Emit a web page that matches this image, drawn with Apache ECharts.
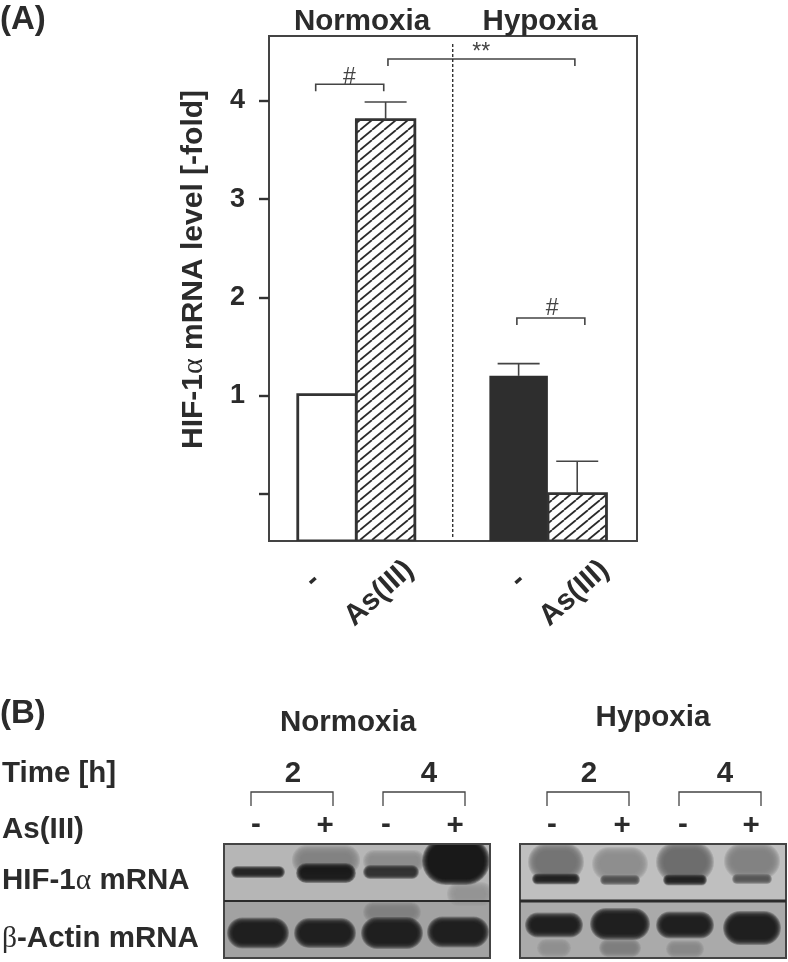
<!DOCTYPE html>
<html><head><meta charset="utf-8">
<style>html,body{margin:0;padding:0;background:#fff}#c{width:788px;height:962px}</style>
<script src="https://cdn.jsdelivr.net/npm/echarts@6/dist/echarts.min.js"></script>
</head><body><div id="c"></div>
<script>
// ---- Panel A data ----
var barPositions = [1, 2, 4.27, 5.27];
var barMeans = [1.01, 3.81, 1.20, 0.0];
var errorPositions = [2, 4.27, 5.27];
var errorBases = [3.81, 1.20, 0.0];
var errorTops = [3.99, 1.325, 0.33];
var barFills = ['plain', 'hatch', 'solid', 'hatch'];
var xLabels = ['-\u00a0\u00a0', 'As(III)', '-\u00a0\u00a0', 'As(III)'];
var xLabelPositions = [1.02, 2.41, 4.53, 5.74];
var yTickValues = [0, 1, 2, 3, 4];
var yLabelValues = [1, 2, 3, 4];
var bracketStarts = [0.807, 2.04, 4.24];
var bracketEnds = [1.968, 5.23, 5.40];
var bracketHeights = [4.17, 4.427, 1.79];
var bracketMarks = ['#', '**', '#'];
var bracketMarkX = [1.38, 3.63, 4.84];
var bracketMarkY = [4.24, 4.49, 1.88];
var dividerX = [3.145];
var dividerEnds = [-0.44, 4.59];
var yMin = -0.482, yMax = 4.662;

// ---- Panel B blot bands, in panel units: [centre x, centre y, width, height, tone, blur] ----
var normoxiaBands = [
  [102, 16, 50, 12, '#808080', 9],
  [34, 28, 46, 4, '#1c1c1c', 4],
  [102, 29, 50, 10, '#141414', 5],
  [170, 17, 48, 8, '#8c8c8c', 7],
  [167, 28, 48, 6, '#2c2c2c', 4],
  [246, 50, 30, 8, '#949494', 8],
  [232, 17, 56, 36, '#101010', 6],
  [34, 89, 50, 19, '#181818', 6],
  [101, 89, 50, 18, '#181818', 6],
  [168, 68, 44, 6, '#808080', 7],
  [168, 89, 50, 20, '#181818', 6],
  [234, 88, 50, 19, '#181818', 6]
];
var hypoxiaBands = [
  [36, 18, 40, 22, '#707070', 8],
  [36, 35, 40, 3, '#1c1c1c', 4],
  [100, 20, 40, 18, '#8a8a8a', 8],
  [100, 36, 32, 2, '#4a4a4a', 4],
  [165, 18, 42, 24, '#6a6a6a', 8],
  [165, 36, 36, 3, '#1c1c1c', 4],
  [232, 17, 40, 20, '#7e7e7e', 8],
  [232, 35, 32, 2, '#505050', 4],
  [34, 104, 22, 6, '#909090', 6],
  [100, 104, 30, 6, '#7a7a7a', 6],
  [165, 105, 26, 5, '#868686', 6],
  [34, 81, 46, 13, '#181818', 6],
  [100, 80, 48, 20, '#181818', 6],
  [165, 81, 46, 15, '#181818', 6],
  [232, 84, 46, 22, '#181818', 6]
];

// ---- Styles ----
var INK = '#2b2b2b', LINE = '#444444';
var BOLD = '"Liberation Sans", Arial, sans-serif';
var SERIF = '"Liberation Serif", serif';
var FS = 29.5;

function hatchPattern() {
  var w = 12, h = 10;
  var cv = document.createElement('canvas');
  cv.width = w; cv.height = h;
  var g = cv.getContext('2d');
  g.fillStyle = '#fff'; g.fillRect(0, 0, w, h);
  g.strokeStyle = '#2b2b2b'; g.lineWidth = 1.8;
  [-1, 0, 1].forEach(function (k) {
    g.beginPath();
    g.moveTo(k * w, h);
    g.lineTo(k * w + w, 0);
    g.stroke();
  });
  return { image: cv, repeat: 'repeat' };
}
var fillFor = { plain: '#ffffff', hatch: hatchPattern(), solid: '#2e2e2e' };

function renderBar(params, api) {
  var top = api.coord([api.value(0), api.value(1)]);
  var base = api.coord([api.value(0), yMin]);
  var kind = barFills[params.dataIndex];
  var w = 58.5;
  return {
    type: 'rect',
    shape: { x: top[0] - w / 2, y: top[1], width: w, height: base[1] - top[1] },
    style: { fill: fillFor[kind], stroke: kind === 'solid' ? '#2e2e2e' : '#333333', lineWidth: kind === 'solid' ? 0 : 2.8 }
  };
}
function renderError(params, api) {
  var b = api.coord([api.value(0), api.value(1)]);
  var t = api.coord([api.value(0), api.value(2)]);
  var st = { stroke: LINE, lineWidth: 1.6, fill: null };
  return { type: 'group', children: [
    { type: 'line', shape: { x1: b[0], y1: b[1], x2: t[0], y2: t[1] }, style: st },
    { type: 'line', shape: { x1: t[0] - 21, y1: t[1], x2: t[0] + 21, y2: t[1] }, style: st }
  ]};
}
function renderBracket(params, api) {
  var a = api.coord([api.value(0), api.value(2)]);
  var b = api.coord([api.value(1), api.value(2)]);
  return {
    type: 'polyline',
    shape: { points: [[a[0], a[1] + 7], [a[0], a[1]], [b[0], b[1]], [b[0], b[1] + 7]] },
    style: { stroke: LINE, lineWidth: 1.6, fill: null }
  };
}
function renderMark(params, api) {
  var p = api.coord([api.value(0), api.value(1)]);
  return {
    type: 'text', x: p[0], y: p[1],
    style: { text: bracketMarks[params.dataIndex], x: 0, y: 0, align: 'center', verticalAlign: 'middle',
      font: '23px ' + BOLD, fill: LINE }
  };
}
function renderDivider(params, api) {
  var a = api.coord([api.value(0), dividerEnds[0]]);
  var b = api.coord([api.value(0), dividerEnds[1]]);
  return {
    type: 'line', shape: { x1: a[0], y1: a[1], x2: b[0], y2: b[1] },
    style: { stroke: '#333', lineWidth: 1.4, lineDash: [3, 2] }
  };
}
function softBand(c, b) {
  // nested translucent rounded rects give a soft blot edge
  var layers = [], n = 9;
  for (var k = 0; k < n; k++) {
    var g = b[5] * (1 - k / (n - 1));
    var W = b[2] + 2 * g, H = b[3] + 2 * g;
    layers.push({
      type: 'rect',
      shape: { x: c[0] - W / 2, y: c[1] - H / 2, width: W, height: H, r: Math.min(W, H) / 2 },
      style: { fill: b[4], opacity: 0.26 }
    });
  }
  return { type: 'group', children: layers };
}
function blotRenderer(bands, topTone, bottomTone) {
  return function (params, api) {
    var i = params.dataIndex;
    if (i === 0) {
      var o = api.coord([0, 0]), m = api.coord([266, 57]), e = api.coord([266, 114]);
      return { type: 'group', children: [
        { type: 'rect', shape: { x: o[0], y: o[1], width: m[0] - o[0], height: m[1] - o[1] }, style: { fill: topTone } },
        { type: 'rect', shape: { x: o[0], y: m[1], width: m[0] - o[0], height: e[1] - m[1] }, style: { fill: bottomTone } }
      ]};
    }
    var b = bands[i - 1];
    return softBand(api.coord([b[0], b[1]]), b);
  };
}
function blotSeries(bands, idx, top, bottom) {
  var data = [[0, 0]].concat(bands.map(function (b) { return [b[0], b[1]]; }));
  return {
    type: 'custom', xAxisIndex: idx, yAxisIndex: idx, clip: true, silent: true,
    renderItem: blotRenderer(bands, top, bottom), data: data, encode: { x: 0, y: 1 }, z: 1
  };
}
function hiddenAxis(idx, max, inverse) {
  return { type: 'value', gridIndex: idx, min: 0, max: max, inverse: !!inverse, show: false };
}

function txt(x, y, text, opts) {
  opts = opts || {};
  return {
    type: 'text', x: x, y: y + 2, z: 10,
    style: {
      text: text, x: 0, y: 0, align: opts.align || 'left', verticalAlign: 'middle',
      font: 'bold ' + (opts.size || FS) + 'px ' + BOLD, fill: INK,
      rich: opts.rich
    }
  };
}
var greekRich = {
  a: { font: 'bold ' + FS + 'px ' + BOLD, fill: INK, color: INK },
  g: { font: FS + 'px ' + SERIF, fill: INK, color: INK }
};
function bracket(x1, x2) {
  return {
    type: 'polyline', z: 10,
    shape: { points: [[x1, 806], [x1, 792], [x2, 792], [x2, 806]] },
    style: { stroke: LINE, lineWidth: 1.3, fill: null }
  };
}
function sepLine(x1, x2, w) {
  return { type: 'line', z: 10, shape: { x1: x1, y1: 901, x2: x2, y2: 901 }, style: { stroke: '#2a2a2a', lineWidth: w } };
}

var chart = echarts.init(document.getElementById('c'), null, { renderer: 'canvas' });
chart.setOption({
  animation: false,
  backgroundColor: '#ffffff',
  grid: [
    { left: 269, top: 36, width: 368, height: 505, show: true, borderColor: '#444', borderWidth: 2, backgroundColor: 'transparent' },
    { left: 224, top: 844, width: 266, height: 114, show: true, borderColor: '#444', borderWidth: 2, backgroundColor: 'transparent', z: 5 },
    { left: 520, top: 844, width: 266, height: 114, show: true, borderColor: '#444', borderWidth: 2, backgroundColor: 'transparent', z: 5 }
  ],
  xAxis: [
    { type: 'value', gridIndex: 0, min: 0.01, max: 6.29,
      splitLine: { show: false }, axisLine: { show: false }, axisTick: { show: false },
      axisLabel: { customValues: xLabelPositions, rotate: 42, align: 'right', verticalAlign: 'middle', margin: 25,
        hideOverlap: false, showMinLabel: true, showMaxLabel: true,
        formatter: function (v) { return xLabels[xLabelPositions.indexOf(v)]; },
        fontFamily: BOLD, fontWeight: 'bold', fontSize: FS, color: INK } },
    hiddenAxis(1, 266), hiddenAxis(2, 266)
  ],
  yAxis: [
    { type: 'value', gridIndex: 0, min: yMin, max: yMax,
      name: '{a|HIF-1}{g|\u03b1}{a| mRNA level [-fold]}',
      nameLocation: 'middle', nameRotate: 90, nameGap: 60,
      nameTextStyle: { padding: [0, 0, 0, 38], rich: {
        a: { fontFamily: BOLD, fontWeight: 'bold', fontSize: 30, color: INK },
        g: { fontFamily: SERIF, fontSize: 30, color: INK } } },
      splitLine: { show: false },
      axisLine: { show: false },
      axisTick: { show: true, customValues: yTickValues, length: 10, lineStyle: { color: '#333', width: 2.4 } },
      axisLabel: { customValues: yLabelValues, margin: 24, padding: [8, 0, 0, 0], fontFamily: BOLD, fontWeight: 'bold', fontSize: 27, color: INK } },
    hiddenAxis(1, 114, true), hiddenAxis(2, 114, true)
  ],
  series: [
    { type: 'custom', xAxisIndex: 0, yAxisIndex: 0, renderItem: renderBar, encode: { x: 0, y: 1 }, z: 2, silent: true, clip: true,
      data: barPositions.map(function (p, i) { return [p, barMeans[i]]; }) },
    { type: 'custom', xAxisIndex: 0, yAxisIndex: 0, renderItem: renderError, encode: { x: 0, y: [1, 2] }, z: 3, silent: true,
      data: errorPositions.map(function (p, i) { return [p, errorBases[i], errorTops[i]]; }) },
    { type: 'custom', xAxisIndex: 0, yAxisIndex: 0, renderItem: renderBracket, encode: { x: [0, 1], y: 2 }, z: 3, silent: true,
      data: bracketStarts.map(function (s, i) { return [s, bracketEnds[i], bracketHeights[i]]; }) },
    { type: 'custom', xAxisIndex: 0, yAxisIndex: 0, renderItem: renderMark, encode: { x: 0, y: 1 }, z: 3, silent: true,
      data: bracketMarkX.map(function (x, i) { return [x, bracketMarkY[i]]; }) },
    { type: 'custom', xAxisIndex: 0, yAxisIndex: 0, renderItem: renderDivider, encode: { x: 0 }, z: 3, silent: true,
      data: dividerX.map(function (x) { return [x]; }) },
    blotSeries(normoxiaBands, 1, '#b6b6b6', '#a2a2a2'),
    blotSeries(hypoxiaBands, 2, '#bfbfbf', '#aaaaaa')
  ],
  graphic: { elements: [
    txt(0, 18, '(A)', { size: 33 }),
    txt(362, 20, 'Normoxia', { align: 'center' }),
    txt(540, 20, 'Hypoxia', { align: 'center' }),
    txt(0, 712, '(B)', { size: 33 }),
    txt(348, 721, 'Normoxia', { align: 'center' }),
    txt(653, 716, 'Hypoxia', { align: 'center' }),
    txt(2, 772, 'Time [h]'),
    txt(293, 772, '2', { align: 'center' }),
    txt(429, 772, '4', { align: 'center' }),
    txt(589, 772, '2', { align: 'center' }),
    txt(725, 772, '4', { align: 'center' }),
    txt(2, 828, 'As(III)'),
    txt(2, 879, '{a|HIF-1}{g|\u03b1}{a| mRNA}', { rich: greekRich }),
    txt(2, 937, '{g|\u03b2}{a|-Actin mRNA}', { rich: greekRich }),
    txt(256, 823, '-', { align: 'center' }),
    txt(325, 824, '+', { align: 'center' }),
    txt(386, 823, '-', { align: 'center' }),
    txt(455, 824, '+', { align: 'center' }),
    txt(552, 823, '-', { align: 'center' }),
    txt(622, 824, '+', { align: 'center' }),
    txt(683, 823, '-', { align: 'center' }),
    txt(751, 824, '+', { align: 'center' }),
    bracket(251, 333), bracket(383, 465), bracket(547, 629), bracket(679, 761),
    sepLine(224, 490, 2), sepLine(520, 786, 3)
  ]}
});
</script></body></html>
